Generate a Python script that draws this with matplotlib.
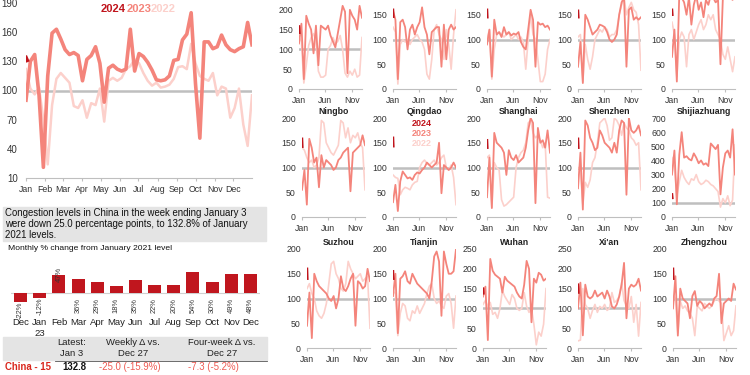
import matplotlib.pyplot as plt
from matplotlib.patches import Rectangle

plt.rcParams['font.family'] = ['Liberation Sans', 'DejaVu Sans']

C24 = '#c0141c'
C23 = '#f4847b'
C22 = '#fcd0cb'
GREY = '#bfbfbf'
W, H = 750, 375

months = ['Jan', 'Feb', 'Mar', 'Apr', 'May', 'Jun', 'Jul', 'Aug', 'Sep', 'Oct', 'Nov', 'Dec']
month_days = [0, 31, 59, 90, 120, 151, 181, 212, 243, 273, 304, 334]

# China (15 cities), weekly, % of January 2021 level
china_2023 = [90, 130, 137, 95, 21, 115, 159, 163, 153, 142, 137, 139, 136, 110, 132, 136,
              145, 128, 88, 123, 126, 122, 120, 122, 163, 120, 138, 135, 129, 121, 111, 110,
              111, 115, 131, 132, 152, 158, 180, 107, 51, 150, 150, 143, 145, 157, 147, 142,
              140, 143, 145, 170, 147]
china_2022 = [122, 102, 96, 103, 70, 24, 85, 112, 118, 113, 108, 84, 82, 90, 72, 87,
              85, 102, 68, 110, 113, 110, 113, 122, 125, 132, 128, 118, 110, 105, 108, 103,
              104, 106, 112, 124, 125, 122, 148, 128, 115, 112, 110, 118, 95, 104, 102, 72,
              82, 102, 65, 43, 95]
china_2024 = [134, 131]

bar_months = ['Dec', 'Jan\n23', 'Feb', 'Mar', 'Apr', 'May', 'Jun', 'Jul', 'Aug', 'Sep', 'Oct', 'Nov', 'Dec']
bar_values = [-22, -12, 47, 36, 29, 18, 35, 22, 20, 54, 30, 49, 48]

# cities, one point every two weeks
beijing_2023 = [115, 165, 25, 185, 165, 150, 90, 160, 60, 160, 155, 150, 160, 135, 120, 105, 140, 175, 210, 195, 40, 200, 185, 175, 150, 210, 180]
beijing_2022 = [130, 120, 15, 60, 110, 130, 140, 120, 45, 30, 30, 35, 100, 110, 130, 115, 120, 135, 100, 40, 30, 45, 35, 50, 30, 35, 130]
chengdu_2023 = [158, 140, 20, 135, 140, 125, 80, 120, 130, 110, 125, 135, 165, 125, 110, 70, 115, 120, 125, 125, 45, 130, 60, 120, 130, 120, 125]
chengdu_2022 = [125, 115, 10, 90, 100, 95, 100, 90, 100, 105, 110, 100, 95, 80, 30, 20, 60, 120, 130, 110, 100, 60, 120, 90, 40, 110, 160]
chongqing_2023 = [90, 120, 25, 140, 110, 115, 105, 125, 110, 115, 108, 112, 110, 115, 95, 85, 80, 120, 160, 140, 45, 135, 130, 132, 125, 128, 120]
chongqing_2022 = [100, 120, 20, 80, 110, 115, 110, 105, 110, 115, 100, 105, 110, 100, 105, 95, 40, 100, 150, 110, 100, 60, 15, 15, 30, 80, 100]
guangzhou_2023 = [45, 95, 12, 150, 140, 125, 110, 115, 120, 130, 128, 125, 115, 100, 95, 100, 110, 150, 175, 185, 45, 160, 165, 140, 145, 140, 145]
guangzhou_2022 = [105, 110, 15, 90, 60, 40, 65, 100, 110, 120, 115, 125, 120, 105, 110, 110, 120, 150, 170, 185, 150, 165, 175, 160, 155, 130, 38]
hangzhou_2023 = [65, 120, 15, 190, 185, 175, 150, 185, 130, 170, 190, 160, 175, 145, 180, 170, 190, 185, 175, 180, 50, 185, 195, 190, 185, 180, 190]
hangzhou_2022 = [135, 110, 25, 100, 115, 105, 45, 110, 120, 100, 115, 130, 140, 120, 130, 150, 140, 150, 120, 110, 100, 70, 60, 85, 60, 35, 65]
ningbo_2023 = [55, 95, 25, 158, 140, 110, 120, 60, 125, 100, 115, 110, 105, 95, 100, 115, 120, 130, 135, 140, 52, 130, 135, 140, 145, 165, 145]
ningbo_2022 = [140, 135, 120, 110, 115, 100, 105, 120, 195, 190, 150, 140, 130, 125, 135, 145, 195, 190, 160, 180, 150, 165, 160, 170, 150, 140, 55]
qingdao_2023 = [30, 65, 12, 72, 92, 85, 78, 80, 75, 85, 90, 88, 95, 100, 110, 105, 100, 105, 110, 150, 48, 105, 100, 95, 100, 110, 100]
qingdao_2022 = [85, 80, 78, 45, 55, 60, 58, 55, 65, 70, 72, 100, 110, 115, 108, 105, 110, 115, 105, 110, 120, 125, 100, 95, 105, 80, 25]
shanghai_2023 = [40, 120, 18, 170, 150, 145, 140, 130, 85, 135, 120, 115, 125, 110, 115, 120, 140, 175, 200, 190, 28, 180, 150, 155, 140, 175, 130]
shanghai_2022 = [120, 125, 20, 110, 100, 95, 35, 22, 25, 30, 35, 40, 100, 120, 130, 135, 150, 190, 195, 170, 160, 165, 155, 140, 150, 40, 38]
shenzhen_2023 = [58, 130, 15, 195, 185, 160, 150, 135, 140, 175, 165, 150, 145, 140, 130, 150, 130, 175, 195, 190, 45, 200, 175, 170, 175, 185, 165]
shenzhen_2022 = [100, 95, 25, 70, 60, 75, 110, 120, 150, 190, 195, 200, 185, 155, 160, 200, 195, 185, 165, 190, 180, 175, 160, 155, 145, 150, 55]
shijiazhuang_2023 = [300, 470, 90, 440, 600, 420, 430, 410, 400, 450, 420, 380, 400, 370, 380, 360, 520, 500, 480, 510, 160, 350, 450, 470, 420, 620, 300]
shijiazhuang_2022 = [420, 350, 150, 250, 330, 280, 250, 230, 270, 260, 300, 250, 230, 240, 260, 250, 230, 220, 200, 180, 70, 130, 100, 150, 80, 120, 510]
suzhou_2023 = [45, 112, 20, 150, 135, 125, 120, 115, 110, 100, 95, 105, 80, 100, 145, 120, 115, 125, 140, 150, 45, 135, 130, 120, 125, 160, 135]
suzhou_2022 = [120, 130, 110, 100, 75, 65, 60, 70, 90, 130, 170, 175, 150, 140, 120, 115, 130, 175, 160, 150, 140, 145, 150, 135, 140, 145, 40]
tianjin_2023 = [105, 150, 30, 140, 145, 155, 135, 130, 150, 140, 130, 125, 120, 115, 110, 100, 135, 185, 195, 175, 65, 195, 170, 150, 150, 155, 200]
tianjin_2022 = [115, 110, 25, 70, 90, 85, 60, 55, 75, 70, 85, 70, 80, 90, 110, 125, 130, 100, 90, 95, 85, 80, 105, 110, 90, 40, 105]
wuhan_2023 = [130, 155, 20, 225, 195, 185, 180, 175, 140, 180, 170, 165, 160, 155, 140, 130, 125, 160, 220, 200, 65, 175, 165, 190, 185, 170, 175]
wuhan_2022 = [110, 120, 105, 115, 85, 90, 75, 100, 145, 130, 120, 110, 135, 125, 100, 95, 100, 140, 105, 90, 100, 60, 8, 40, 30, 60, 150]
xian_2023 = [100, 165, 32, 160, 130, 125, 130, 145, 130, 135, 140, 125, 145, 130, 105, 100, 110, 130, 160, 215, 75, 150, 160, 155, 160, 175, 145]
xian_2022 = [18, 20, 150, 110, 100, 75, 95, 110, 90, 105, 100, 110, 95, 100, 140, 115, 120, 130, 165, 120, 105, 100, 130, 65, 110, 30, 115]
zhengzhou_2023 = [80, 145, 25, 120, 100, 95, 90, 60, 105, 115, 85, 95, 90, 80, 85, 90, 85, 100, 105, 150, 50, 90, 95, 100, 95, 130, 118]
zhengzhou_2022 = [105, 100, 30, 95, 80, 85, 75, 70, 60, 25, 85, 80, 75, 90, 85, 80, 85, 95, 100, 95, 90, 15, 30, 45, 25, 35, 85]

# first days of 2024 for each city
city_2024 = [[158, 142], [160, 146], [160, 145], [158, 145], [160, 150],
             [158, 142], [160, 143], [155, 140], [158, 140], [160, 135],
             [160, 140], [155, 140], [150, 138], [160, 140], [160, 140]]

city_names = ['Beijing', 'Chengdu', 'Chongqing', 'Guangzhou', 'Hangzhou',
              'Ningbo', 'Qingdao', 'Shanghai', 'Shenzhen', 'Shijiazhuang',
              'Suzhou', 'Tianjin', 'Wuhan', "Xi'an", 'Zhengzhou']
city_2023 = [beijing_2023, chengdu_2023, chongqing_2023, guangzhou_2023, hangzhou_2023,
             ningbo_2023, qingdao_2023, shanghai_2023, shenzhen_2023, shijiazhuang_2023,
             suzhou_2023, tianjin_2023, wuhan_2023, xian_2023, zhengzhou_2023]
city_2022 = [beijing_2022, chengdu_2022, chongqing_2022, guangzhou_2022, hangzhou_2022,
             ningbo_2022, qingdao_2022, shanghai_2022, shenzhen_2022, shijiazhuang_2022,
             suzhou_2022, tianjin_2022, wuhan_2022, xian_2022, zhengzhou_2022]
city_ymax = [250, 200, 200, 200, 200,
             200, 200, 200, 200, 700,
             200, 200, 250, 250, 200]


def px_axes(fig, left, top, width, height):
    return fig.add_axes([left / W, 1 - (top + height) / H, width / W, height / H])


fig = plt.figure(figsize=(7.5, 3.75), dpi=100)

# ---- main China chart ----
ax = px_axes(fig, 26, 3, 226, 175)
week_days = [7 * i for i in range(len(china_2023))]
ax.axhline(100, color=GREY, lw=1.8, zorder=1)
ax.plot(week_days, china_2022, color=C22, lw=1.8, zorder=2)
ax.plot(week_days, china_2023, color=C23, lw=2.6, zorder=3)
ax.plot([0, 2], china_2024, color=C24, lw=2.6, zorder=4)
ax.set_xlim(0, 364)
ax.set_ylim(10, 190)
ax.set_yticks(range(10, 191, 30))
ax.set_xticks(month_days)
ax.set_xticklabels(months)
for s in ['top', 'right', 'left']:
    ax.spines[s].set_visible(False)
ax.spines['bottom'].set_color(GREY)
ax.tick_params(axis='y', length=0, pad=6, labelsize=7, labelcolor='#333333')
ax.tick_params(axis='x', length=2, color=GREY, pad=3, labelsize=6.3, labelcolor='#333333')

fig.text(101 / W, 1 - 9 / H, '2024', color=C24, fontsize=8, fontweight='bold', va='center')
fig.text(127 / W, 1 - 9 / H, '2023', color=C23, fontsize=8, fontweight='bold', va='center')
fig.text(151 / W, 1 - 9 / H, '2022', color=C22, fontsize=8, fontweight='bold', va='center')

# ---- summary text ----
fig.patches.append(Rectangle((3 / W, 1 - 241 / H), 263 / W, 34 / H,
                             transform=fig.transFigure, color='#e4e4e4', zorder=0))
fig.text(5 / W, 1 - 208 / H,
         'Congestion levels in China in the week ending January 3\n'
         'were down 25.0 percentage points, to 132.8% of January\n'
         '2021 levels.', fontsize=6.9, va='top', linespacing=1.15, color='#111111')
fig.text(8 / W, 1 - 248 / H, 'Monthly % change from January 2021 level',
         fontsize=6.1, va='center', color='#111111')

# ---- monthly bars ----
bx = px_axes(fig, 11, 262, 249, 78)
xs = list(range(len(bar_values)))
bx.bar(xs, bar_values, width=0.68, color='#c0161e', zorder=2)
bx.axhline(0, color='#d0d0d0', lw=0.8, zorder=1)
bx.set_xlim(-0.5, len(bar_values) - 0.5)
bx.set_ylim(-120, 80)
bx.axis('off')
for x, v, m in zip(xs, bar_values, bar_months):
    lab = f'{v}%'
    if x == 2:
        bx.text(x, v, lab, rotation=90, ha='center', va='center', fontsize=5.4, color='#333333')
    elif v < 0:
        bx.text(x, v, lab, rotation=90, ha='center', va='top', fontsize=5.4, color='#333333')
    else:
        bx.text(x, -13, lab, rotation=90, ha='center', va='top', fontsize=5.4, color='#333333')
    bx.text(x, -64, m, ha='center', va='top', fontsize=6.8, color='#222222', linespacing=1.2)

# ---- table ----
fig.patches.append(Rectangle((3 / W, 1 - 360 / H), 264 / W, 23 / H,
                             transform=fig.transFigure, color='#e4e4e4', zorder=0))
fig.lines.append(plt.Line2D([55 / W, 267 / W], [1 - 360.5 / H, 1 - 360.5 / H],
                            transform=fig.transFigure, color='#555555', lw=0.6))
for cx, txt in [(72, 'Latest:\nJan 3'), (133, 'Weekly Δ vs.\nDec 27'), (222, 'Four-week Δ vs.\nDec 27')]:
    fig.text(cx / W, 1 - 348 / H, txt, ha='center', va='center', fontsize=6.8,
             linespacing=1.15, color='#222222')
fig.text(5 / W, 1 - 367 / H, 'China - 15', fontsize=6.9, fontweight='bold', color='#d9261c', va='center')
fig.text(74 / W, 1 - 367 / H, '132.8', fontsize=6.9, fontweight='bold', color='#111111', va='center', ha='center')
fig.text(130 / W, 1 - 367 / H, '-25.0 (-15.9%)', fontsize=6.9, color='#ef5a52', va='center', ha='center')
fig.text(213 / W, 1 - 367 / H, '-7.3 (-5.2%)', fontsize=6.9, color='#ef5a52', va='center', ha='center')

# ---- city small multiples ----
row_tops = [-10, 118, 249]
col_lefts = [[299, 393, 487, 578, 672],
             [302, 393, 487, 578, 672],
             [307, 393, 483, 578, 673]]
city_days = [14 * i for i in range(27)]
for k, name in enumerate(city_names):
    r, c = divmod(k, 5)
    top = row_tops[r]
    sx = px_axes(fig, col_lefts[r][c], top, 63, 99)
    sx.axhline(100, color=GREY, lw=1.8, zorder=1)
    sx.plot(city_days, city_2022[k], color=C22, lw=1.2, zorder=2)
    sx.plot(city_days, city_2023[k], color=C23, lw=1.3, zorder=3)
    sx.plot([0, 2], city_2024[k], color=C24, lw=1.8, zorder=4)
    sx.set_xlim(0, 364)
    ymax = city_ymax[k]
    sx.set_ylim(0, ymax)
    step = 100 if ymax > 300 else 50
    # keep only ticks that sit inside the picture
    shown = [t for t in range(0, ymax + 1, step) if top + 99 - t / ymax * 99 > 5]
    sx.set_yticks(shown)
    sx.set_xticks([0, 151, 304])
    sx.set_xticklabels(['Jan', 'Jun', 'Nov'])
    for s in ['top', 'right', 'left']:
        sx.spines[s].set_visible(False)
    sx.spines['bottom'].set_color(GREY)
    sx.tick_params(axis='y', length=0, pad=4.5, labelsize=6.3, labelcolor='#333333')
    sx.tick_params(axis='x', length=2, color=GREY, pad=3, labelsize=6.3, labelcolor='#333333')
    if r > 0:
        sx.set_title(name, fontsize=6.3, fontweight='bold', pad=3, color='#222222')

fig.text(422 / W, 1 - 123 / H, '2024', color=C24, fontsize=6.5, fontweight='bold', ha='center', va='center')
fig.text(422 / W, 1 - 133 / H, '2023', color=C23, fontsize=6.5, fontweight='bold', ha='center', va='center')
fig.text(422 / W, 1 - 144 / H, '2022', color=C22, fontsize=6.5, fontweight='bold', ha='center', va='center')

fig.savefig('out.png', dpi=100)
